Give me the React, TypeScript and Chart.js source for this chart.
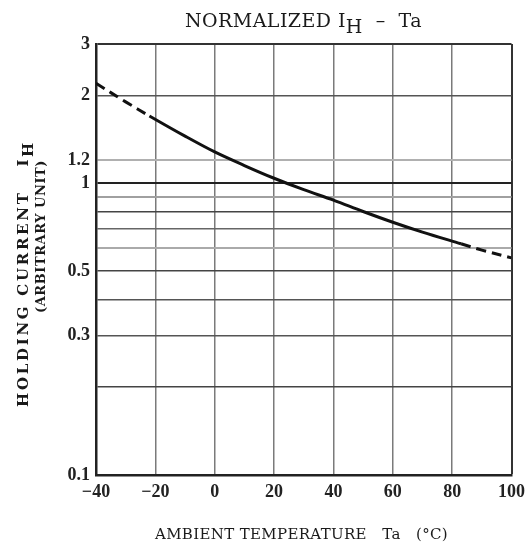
import React, { useEffect, useRef } from "react";
import { Chart, registerables } from "chart.js";

Chart.register(...registerables);

// ambient temperature (°C) and normalized holding current
const temps = [-40, -30, -22, -10, 0, 10, 20, 30, 40, 50, 60, 70, 83, 90, 100];
const holding = [2.2, 1.9, 1.7, 1.45, 1.28, 1.15, 1.04, 0.95, 0.875, 0.8, 0.735, 0.68, 0.62, 0.59, 0.555];

// the curve is dashed outside this range
const dashBelow = -22;
const dashAbove = 83;

const xTicks = [-40, -20, 0, 20, 40, 60, 80, 100];
const yGrid = [0.1, 0.2, 0.3, 0.4, 0.5, 0.6, 0.7, 0.8, 0.9, 1, 1.2, 2, 3];
const yLabels = [0.1, 0.3, 0.5, 1, 1.2, 2, 3];

const serif = "'Liberation Serif', 'DejaVu Serif', serif";
const wideSerif = "'DejaVu Serif', 'Liberation Serif', serif";

const yLineColor: Record<string, string> = {
  "3": "#333", "2": "#555", "1.2": "#b0b0b0", "1": "#222", "0.9": "#a0a0a0",
  "0.8": "#444", "0.7": "#666", "0.6": "#aaa", "0.5": "#444", "0.4": "#555",
  "0.3": "#555", "0.2": "#444", "0.1": "#222",
};

// draw a run of text pieces stretched (by letter spacing) to a given width
function drawRun(ctx: any, parts: [string, number][], x: number, y: number, width: number, font: string) {
  ctx.font = font;
  ctx.letterSpacing = "0px";
  const natural = parts.reduce((s, p) => s + ctx.measureText(p[0]).width, 0);
  const chars = parts.reduce((s, p) => s + p[0].length, 0);
  const ls = (width - natural) / chars;
  ctx.letterSpacing = ls + "px";
  let cx = x;
  for (const [t, dy] of parts) {
    ctx.fillText(t, cx, y + dy);
    cx += ctx.measureText(t).width;
  }
  ctx.letterSpacing = "0px";
}

const labelsPlugin = {
  id: "labels",
  afterDraw(chart: any) {
    const ctx = chart.ctx;
    ctx.save();
    ctx.fillStyle = "#1a1a1a";
    ctx.textAlign = "left";
    ctx.textBaseline = "alphabetic";
    // title
    drawRun(ctx, [["NORMALIZED I", 0], ["H", 6], ["  –  Ta", 0]], 185, 27, 237, `19px ${wideSerif}`);
    // x axis title
    drawRun(ctx, [["AMBIENT TEMPERATURE   Ta   (°C)", 0]], 155, 539, 293, `15px ${wideSerif}`);
    // y axis title (rotated)
    ctx.translate(28, 407);
    ctx.rotate(-Math.PI / 2);
    drawRun(ctx, [["HOLDING CURRENT   I", 0], ["H", 5]], 0, 0, 267, `bold 15px ${wideSerif}`);
    ctx.restore();
    ctx.save();
    ctx.fillStyle = "#1a1a1a";
    ctx.textAlign = "left";
    ctx.translate(45, 313);
    ctx.rotate(-Math.PI / 2);
    drawRun(ctx, [["(ARBITRARY UNIT)", 0]], 0, 0, 153, `bold 13px ${wideSerif}`);
    ctx.restore();
  },
};

export default function App() {
  const chartRef = useRef(null) as any;
  const chartInstance = useRef(null) as any;

  useEffect(() => {
    document.body.style.margin = "0";
    if (chartInstance.current) {
      chartInstance.current.destroy();
    }
    const myChartRef = chartRef.current?.getContext("2d");

    chartInstance.current = new Chart(myChartRef, {
      type: "line",
      data: {
        datasets: [
          {
            label: "IH",
            data: temps.map((t, i) => ({ x: t, y: holding[i] })),
            borderColor: "#111",
            borderWidth: 3,
            pointRadius: 0,
            tension: 0.35,
            segment: {
              borderDash: (c: any) =>
                c.p1.parsed.x <= dashBelow || c.p0.parsed.x >= dashAbove ? [10, 6] : undefined,
            },
          },
        ],
      },
      options: {
        animation: false,
        responsive: true,
        maintainAspectRatio: false,
        layout: { padding: { top: 44, right: 17, bottom: 0, left: 0 } },
        plugins: { legend: { display: false }, tooltip: { enabled: false }, title: { display: false } },
        scales: {
          x: {
            type: "linear",
            min: -40,
            max: 100,
            afterBuildTicks: (s: any) => {
              s.ticks = xTicks.map((v) => ({ value: v }));
            },
            afterFit: (s: any) => {
              s.height = 71;
            },
            grid: {
              drawTicks: false,
              color: (c: any) => (c.tick && c.tick.value === 100 ? "#333" : "#7a7a7a"),
              lineWidth: (c: any) => (c.tick && c.tick.value === 100 ? 2 : 1.5),
            },
            border: { color: "#222", width: 2.5 },
            ticks: {
              padding: 7,
              color: "#222",
              font: { family: serif, size: 18, weight: "bold" },
              callback: (v: any) => (v < 0 ? "−" + Math.abs(v) : String(v)),
            },
          },
          y: {
            type: "logarithmic",
            min: 0.1,
            max: 3,
            afterBuildTicks: (s: any) => {
              s.ticks = yGrid.map((v) => ({ value: v }));
            },
            afterFit: (s: any) => {
              s.width = 96;
            },
            grid: {
              drawTicks: false,
              color: (c: any) => (c.tick ? yLineColor[String(c.tick.value)] || "#555" : "#555"),
              lineWidth: (c: any) => {
                const v = c.tick ? c.tick.value : 0;
                return v === 1 || v === 3 || v === 1.2 || v === 0.9 || v === 0.6 ? 2 : 1.5;
              },
            },
            border: { color: "#222", width: 2.5 },
            ticks: {
              padding: 6,
              color: "#222",
              font: { family: serif, size: 18, weight: "bold" },
              autoSkip: false,
              callback: (v: any) => (yLabels.includes(Number(v)) ? String(v) : ""),
            },
          },
        },
      },
      plugins: [labelsPlugin],
    } as any);

    return () => {
      if (chartInstance.current) {
        chartInstance.current.destroy();
      }
    };
  }, []);

  return (
    <div style={{ width: 532, height: 546, position: "relative" }}>
      <canvas ref={chartRef}></canvas>
    </div>
  );
}
